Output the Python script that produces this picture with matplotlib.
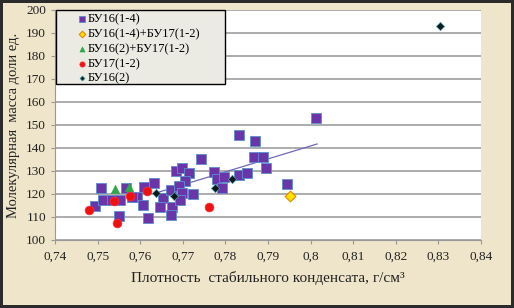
import matplotlib.pyplot as plt
from matplotlib.patches import Rectangle
import numpy as np

plt.rcParams['font.family'] = ['Liberation Serif', 'DejaVu Serif']

# ---------- данные ----------
bu16_14_x = [0.7507, 0.7494, 0.7513, 0.7533, 0.7553, 0.7550, 0.7567, 0.7592, 0.7609, 0.7607,
             0.7618, 0.7633, 0.7654, 0.7646, 0.7674, 0.7672, 0.7672, 0.7684, 0.7697, 0.7715,
             0.7705, 0.7690, 0.7697, 0.7693, 0.7725, 0.7743, 0.7772, 0.7780, 0.7797, 0.7793,
             0.7832, 0.7850, 0.7831, 0.7869, 0.7866, 0.7888, 0.7895, 0.8013, 0.7945, 0.7580]
bu16_14_y = [122.5, 114.8, 117.4, 117.4, 117.4, 110.4, 122.7, 118.8, 122.9, 115.2,
             109.4, 124.6, 118.1, 114.5, 114.5, 110.9, 121.7, 130.1, 131.2, 129.3,
             125.4, 123.5, 120.3, 117.4, 120.0, 135.2, 129.4, 126.4, 127.3, 122.7,
             128.3, 129.3, 145.4, 143.2, 136.2, 136.2, 131.2, 152.9, 124.3, 118.6]

bu16_14_17_x = [0.7952]
bu16_14_17_y = [119.3]

bu16_2_17_x = [0.7540, 0.7574]
bu16_2_17_y = [122.2, 122.9]

bu17_x = [0.7480, 0.7538, 0.7546, 0.7576, 0.7615, 0.7761]
bu17_y = [113.0, 117.1, 107.3, 119.1, 121.3, 114.2]

bu16_2_x = [0.7637, 0.7679, 0.7776, 0.7815, 0.8303]
bu16_2_y = [120.3, 119.3, 122.5, 126.4, 193.2]

# линия тренда (концы)
trend_x = [0.7635, 0.8015]
trend_y = [120.3, 141.7]

xticks = np.round(np.arange(0.74, 0.8401, 0.01), 2)
yticks = np.arange(100, 201, 10)


def fmt(v):
    s = ('%.2f' % v).rstrip('0').rstrip('.')
    return s.replace('.', ',')


fig = plt.figure(figsize=(5.14, 3.08), dpi=100, facecolor='#efe5ca',
                 edgecolor='#2b2b2b', linewidth=3)
ax = fig.add_axes([0.107, 0.221, 0.829, 0.747])
ax.set_facecolor('white')

ax.scatter(bu16_14_x, bu16_14_y, marker='s', s=44, color='#6a35a8',
           edgecolors='#5b8fd0', linewidths=0.6, zorder=3, label='БУ16(1-4)')
ax.scatter(bu16_14_17_x, bu16_14_17_y, marker='D', s=30, color='#ffe000',
           edgecolors='#e08a00', linewidths=0.8, zorder=4, label='БУ16(1-4)+БУ17(1-2)')
ax.scatter(bu16_2_17_x, bu16_2_17_y, marker='^', s=36, color='#2ea84a',
           edgecolors='#2ea84a', linewidths=0.5, zorder=4, label='БУ16(2)+БУ17(1-2)')
ax.scatter(bu17_x, bu17_y, marker='o', s=40, color='#ee1111',
           edgecolors='#ff3030', linewidths=0.5, zorder=4, label='БУ17(1-2)')
ax.scatter(bu16_2_x, bu16_2_y, marker='D', s=18, color='#0a1a1a',
           edgecolors='#4aa0b0', linewidths=0.5, zorder=5, label='БУ16(2)')
ax.plot(trend_x, trend_y, color='#7068b8', linewidth=0.9, zorder=2)

ax.set_xlim(0.74, 0.84)
ax.set_ylim(100, 200)
ax.set_xticks(xticks)
ax.set_xticklabels([fmt(v) for v in xticks])
ax.set_yticks(yticks)
ax.tick_params(axis='both', labelsize=9.5, colors='#999999', labelcolor='#222222',
               length=3, width=0.8)
ax.tick_params(axis='x', pad=5)
ax.grid(axis='y', color='#acacac', linewidth=1.4)
ax.set_axisbelow(True)
for sp in ['top', 'right']:
    ax.spines[sp].set_visible(False)
for sp in ['left', 'bottom']:
    ax.spines[sp].set_color('#999999')

ax.set_xlabel('Плотность  стабильного конденсата, г/см³', fontsize=11, labelpad=6,
              color='#222222')
ax.set_ylabel('Молекулярная  масса доли ед.', fontsize=10.5, labelpad=4, color='#222222')

# рамка легенды
ax.add_patch(Rectangle((0.002, 0.678), 0.398, 0.322, transform=ax.transAxes,
                       facecolor='#ecebe3', edgecolor='black', linewidth=1.0,
                       zorder=6, clip_on=False))
leg = ax.legend(loc='upper left', bbox_to_anchor=(0.045, 1.0), borderaxespad=0,
                fontsize=9, frameon=False, handlelength=0.6, handletextpad=0.15,
                labelspacing=0.22, borderpad=0.3, markerscale=0.6)
leg.set_zorder(7)

fig.savefig('out.png', dpi=100, facecolor=fig.get_facecolor(), edgecolor=fig.get_edgecolor())
